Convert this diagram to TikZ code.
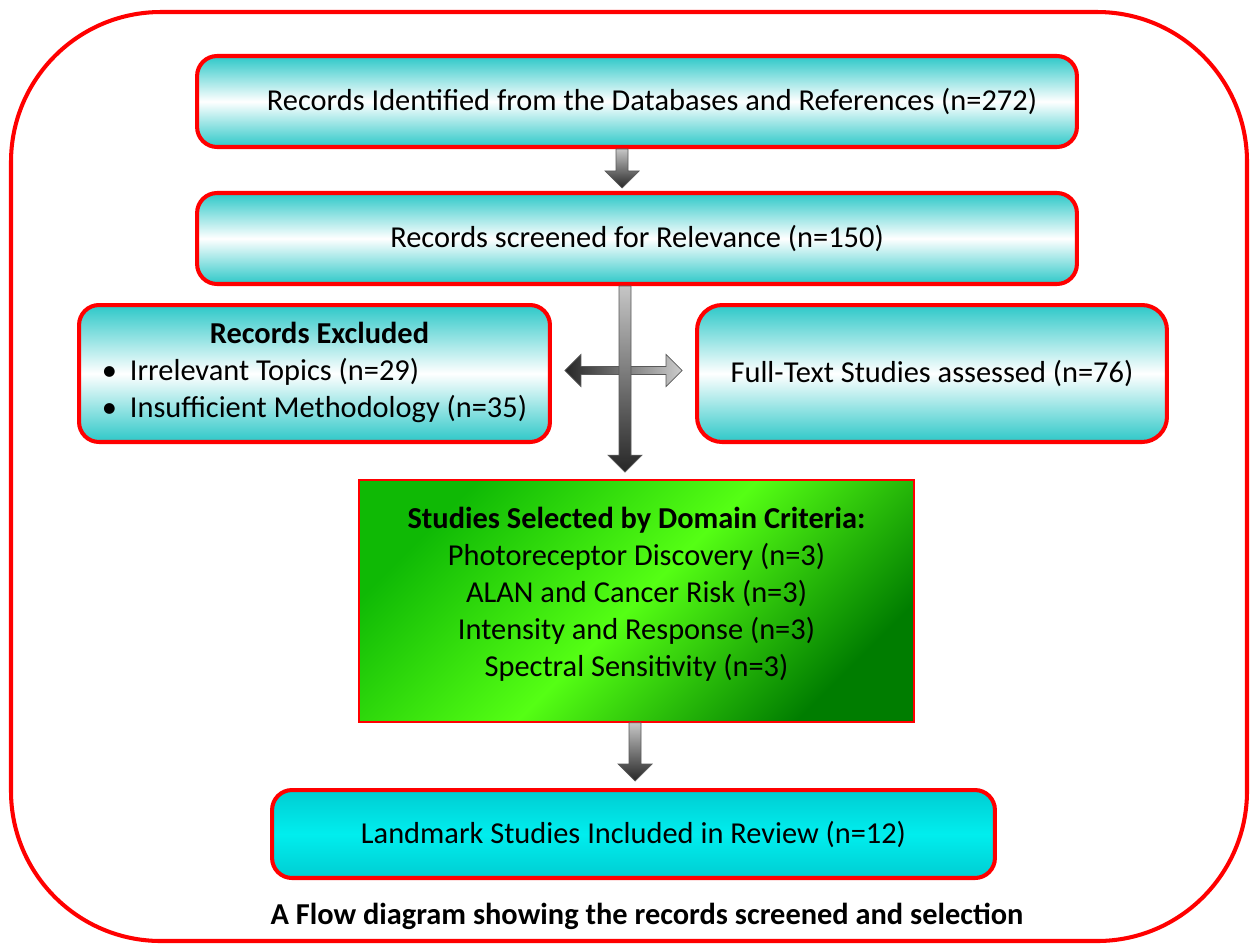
\documentclass[tikz,border=0pt]{standalone}
\usepackage{fontspec}
\setmainfont{Carlito}
\usetikzlibrary{calc}
\definecolor{tq}{RGB}{45,200,200}
\definecolor{cyA}{RGB}{0,238,238}
\definecolor{cyB}{RGB}{0,205,210}
\definecolor{gA}{RGB}{15,185,5}
\definecolor{gB}{RGB}{85,255,20}
\definecolor{gC}{RGB}{0,125,0}
\newcommand{\vblock}[2]{%
  \path[blockv] ($(#1)+(-6,0)$) -- ($(#2)+(-6,-17)$) -- ($(#2)+(-17,-17)$) -- (#2)
    -- ($(#2)+(17,-17)$) -- ($(#2)+(6,-17)$) -- ($(#1)+(6,0)$) -- cycle;}
\begin{document}
\begin{tikzpicture}[x=0.02cm,y=-0.02cm,
  every node/.style={font=\fontsize{17.3}{21}\selectfont},
  cyanbox/.style={draw=red, line width=2.3pt, rounded corners=0.4cm, shading=axis,
    top color=tq, bottom color=tq, middle color=white, inner sep=0pt},
  landbox/.style={draw=red, line width=2.3pt, rounded corners=0.4cm, shading=axis,
    top color=cyB, bottom color=cyB, middle color=cyA, inner sep=0pt},
  greenbox/.style={draw=red, line width=1pt, shading=axis,
    top color=gA, bottom color=gC, middle color=gB, shading angle=45, inner sep=0pt},
  blockv/.style={shading=axis, top color=gray!45, bottom color=black!85, draw=black!65, line width=0.4pt},
  blockh/.style={shading=axis, left color=black!85, right color=gray!40, draw=black!65, line width=0.4pt},
  outer/.style={draw=red, line width=2.3pt, rounded corners=3cm}
]
\useasboundingbox (0,0) rectangle (1250,944);
\draw[outer] (11,12) rectangle (1247,941);

\node[cyanbox, minimum width=17.6cm, minimum height=1.82cm] (b1) at (637,101.5)
  {\hspace{0.6cm}Records Identified from the Databases and References (n=272)};
\node[cyanbox, minimum width=17.6cm, minimum height=1.82cm] (b2) at (637,238.5)
  {Records screened for Relevance (n=150)};
\node[cyanbox, minimum width=9.42cm, minimum height=2.74cm] (b3) at (314.5,373.5)
  {\begin{tabular}{@{}l@{}}
   \multicolumn{1}{@{}c@{}}{\hspace{0.2cm}\textbf{Records Excluded}}\\
   \makebox[0.56cm][l]{\textbullet}Irrelevant Topics (n=29)\\
   \makebox[0.56cm][l]{\textbullet}Insufficient Methodology (n=35)
   \end{tabular}};
\node[cyanbox, rounded corners=0.5cm, minimum width=9.4cm, minimum height=2.74cm] (b4) at (932,373.5)
  {Full-Text Studies assessed (n=76)};
\node[greenbox, minimum width=11.1cm, minimum height=4.84cm, align=center] (b5) at (636.5,601)
  {\textbf{Studies Selected by Domain Criteria:}\\
   Photoreceptor Discovery (n=3)\\
   ALAN and Cancer Risk (n=3)\\
   Intensity and Response (n=3)\\
   Spectral Sensitivity (n=3)\\[-0.36cm]\mbox{}};
\node[landbox, minimum width=14.46cm, minimum height=1.76cm] (b6) at (633.5,834)
  {Landmark Studies Included in Review (n=12)};
\node[font=\fontsize{17.3}{21}\selectfont\bfseries] (cap) at (647,916)
  {A Flow diagram showing the records screened and selection};

% arrow b1 -> b2
\coordinate (a1s) at ($(b1.south)+(-15,0)$);
\coordinate (a1e) at ($(b2.north)+(-15,-3)$);
\vblock{a1s}{a1e}

% horizontal double arrow between b3 and b4
\coordinate (hl) at ($(b3.east)+(13,-3)$);
\coordinate (hr) at ($(b4.west)+(-13,-3)$);
\path[blockh] (hl) -- ($(hl)+(16,-16)$) -- ($(hl)+(16,-4)$) -- ($(hr)+(-16,-4)$)
  -- ($(hr)+(-16,-16)$) -- (hr) -- ($(hr)+(-16,16)$) -- ($(hr)+(-16,4)$)
  -- ($(hl)+(16,4)$) -- ($(hl)+(16,16)$) -- cycle;

% arrow b2 -> b5
\coordinate (a2s) at ($(b2.south)+(-12,0)$);
\coordinate (a2e) at ($(b2.south |- b5.north)+(-12,-7)$);
\vblock{a2s}{a2e}

% arrow b5 -> b6
\coordinate (a3s) at ($(b5.south)+(-1.5,0)$);
\coordinate (a3e) at ($(b5.south |- b6.north)+(-1.5,-7)$);
\vblock{a3s}{a3e}
\end{tikzpicture}
\end{document}
